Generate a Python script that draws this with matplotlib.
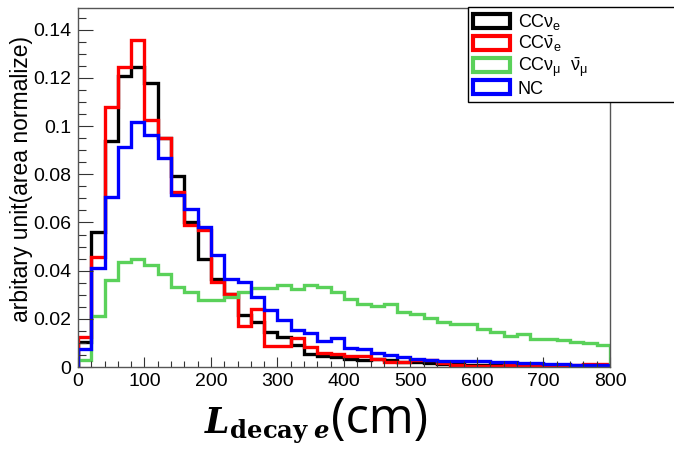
import matplotlib
matplotlib.use('Agg')
import matplotlib.pyplot as plt
from matplotlib.ticker import MultipleLocator, FuncFormatter
from matplotlib.patches import Patch
import numpy as np

# binning: 40 bins of 20 cm
edges = np.arange(0, 820, 20)

cc_nue = [0.0104, 0.056, 0.094, 0.121, 0.1247, 0.1177, 0.0949, 0.0792, 0.0602, 0.045,
          0.0367, 0.0305, 0.0216, 0.0188, 0.0147, 0.0126, 0.0091, 0.0055, 0.0045, 0.004,
          0.0035, 0.003, 0.0032, 0.0028, 0.0022, 0.002, 0.0015, 0.0012, 0.0012, 0.001,
          0.0008, 0.001, 0.0006, 0.0006, 0.0005, 0.0005, 0.0004, 0.0003, 0.0003, 0.0003]
cc_nuebar = [0.0125, 0.0457, 0.108, 0.1247, 0.1357, 0.1025, 0.0949, 0.0727, 0.0589, 0.0568,
             0.0353, 0.0305, 0.017, 0.024, 0.0087, 0.0087, 0.0119, 0.0084, 0.006, 0.0055,
             0.0045, 0.0045, 0.0035, 0.002, 0.002, 0.003, 0.0028, 0.0015, 0.001, 0.0003,
             0.0003, 0.0005, 0.0008, 0.0008, 0.001, 0.0005, 0.0005, 0.0008, 0.0012, 0.0012]
cc_numu = [0.003, 0.021, 0.036, 0.0436, 0.045, 0.0422, 0.0388, 0.0332, 0.0312, 0.0277,
           0.028, 0.029, 0.0313, 0.0327, 0.0327, 0.034, 0.0322, 0.034, 0.0331, 0.031,
           0.0283, 0.0262, 0.0255, 0.026, 0.023, 0.022, 0.0202, 0.0186, 0.0179, 0.0177,
           0.0157, 0.0147, 0.0129, 0.0136, 0.0116, 0.0116, 0.0112, 0.0105, 0.0101, 0.0091]
nc = [0.0076, 0.041, 0.0706, 0.0914, 0.1018, 0.0963, 0.0866, 0.0713, 0.0658, 0.0582,
      0.0464, 0.0367, 0.0354, 0.0292, 0.0237, 0.0195, 0.0154, 0.0142, 0.0108, 0.0119,
      0.0078, 0.0075, 0.0057, 0.005, 0.0043, 0.0035, 0.003, 0.0027, 0.0025, 0.0027,
      0.0025, 0.0022, 0.002, 0.0018, 0.0015, 0.0013, 0.0012, 0.001, 0.0009, 0.0008]

series = [cc_nue, cc_nuebar, cc_numu, nc]
labels = [r'CC$\nu_e$', r'CC$\bar{\nu}_e$', r'CC$\nu_{\mu}\ \ \bar{\nu}_{\mu}$', 'NC']
colors = ['black', '#ff0000', '#5ad15a', '#0000ff']

plt.rcParams['font.family'] = ['Liberation Sans', 'DejaVu Sans']
plt.rcParams['mathtext.fontset'] = 'custom'
plt.rcParams['mathtext.rm'] = 'Liberation Sans'
plt.rcParams['mathtext.it'] = 'Liberation Sans'
plt.rcParams['mathtext.bf'] = 'DejaVu Serif:bold'
plt.rcParams['mathtext.bfit'] = 'DejaVu Serif:italic:bold'

fig = plt.figure(figsize=(6.74, 4.49), dpi=100)
ax = fig.add_axes([0.1157, 0.1826, 0.7893, 0.7994])

handles = []
for vals, lab, col in zip(series, labels, colors):
    ax.stairs(vals, edges, color=col, linewidth=2.4, baseline=0, joinstyle='miter')
    handles.append(Patch(facecolor='none', edgecolor=col, linewidth=3, label=lab))

ax.set_xlim(0, 800)
ax.set_ylim(0, 0.149)
ax.xaxis.set_major_locator(MultipleLocator(100))
ax.xaxis.set_minor_locator(MultipleLocator(20))
ax.yaxis.set_major_locator(MultipleLocator(0.02))
ax.yaxis.set_minor_locator(MultipleLocator(0.005))
ax.yaxis.set_major_formatter(FuncFormatter(lambda v, p: '%g' % round(v, 3)))

ax.tick_params(axis='both', which='both', direction='in', top=False, right=False,
               labelsize=14, color='#333333', width=0.8)
ax.tick_params(axis='y', which='major', length=11, pad=5)
ax.tick_params(axis='y', which='minor', length=6)
ax.tick_params(axis='x', which='major', length=7, pad=4)
ax.tick_params(axis='x', which='minor', length=4)
for s in ax.spines.values():
    s.set_color('#555555')
    s.set_linewidth(1)

leg = ax.legend(handles=handles, loc='upper left',
                bbox_to_anchor=(0.6944, 0.7706, 0.33, 0.2127),
                bbox_transform=fig.transFigure, mode='expand', fontsize=13,
                fancybox=False, framealpha=1, edgecolor='black', borderaxespad=0,
                borderpad=0.25, labelspacing=0.08, handlelength=2.1, handleheight=0.8,
                handletextpad=0.4)
leg.get_frame().set_linewidth(1)

fig.text(22 / 674, 1 - 179 / 449, 'arbitary unit(area normalize)', rotation=90,
         ha='center', va='center', fontsize=16.5)
# x title: bold italic symbol plus unit
fig.text(330 / 674, 1 - 433 / 449, r'$\mathbfit{L}_{\mathbf{decay}\ \mathbfit{e}}$',
         ha='right', va='baseline', fontsize=25)
fig.text(331 / 674, 1 - 433 / 449, '(cm)', ha='left', va='baseline',
         fontsize=35, family='Open Sans')

fig.savefig('out.png', dpi=100)
